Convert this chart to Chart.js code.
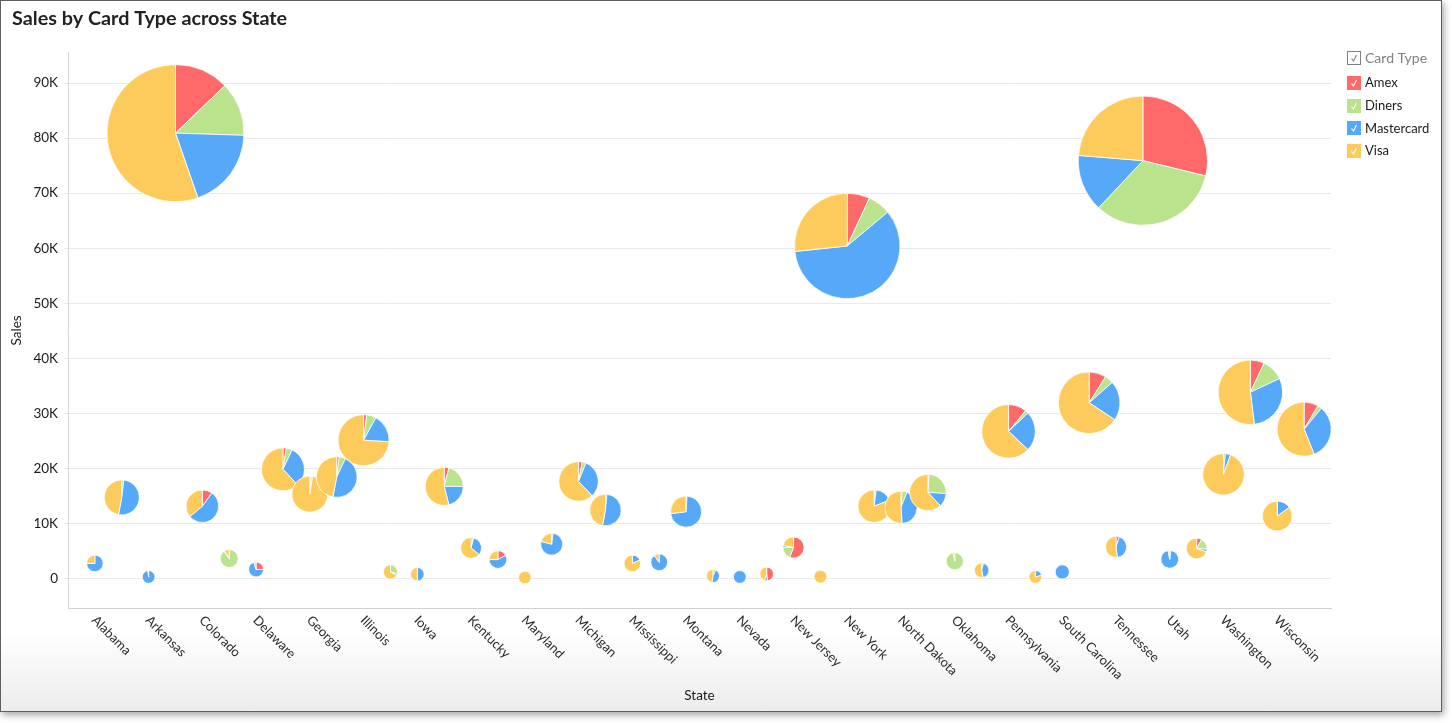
<!DOCTYPE html>
<html>
<head>
<meta charset="utf-8">
<title>Sales by Card Type across State</title>
<script src="https://cdn.jsdelivr.net/npm/chart.js@4.4.1/dist/chart.umd.min.js"></script>
<style>
  html, body { margin: 0; padding: 0; background: #fff; }
  #frame {
    position: absolute; left: 0; top: 0;
    width: 1440px; height: 710px;
    border: 1px solid #5f5f5f;
    background: linear-gradient(to bottom, #fff 0, #fff 630px, #ececec 710px);
    box-shadow: 2px 3px 7px rgba(0, 0, 0, 0.35);
  }
  #frame canvas { display: block; }
</style>
</head>
<body>
<div id="frame"><canvas id="chart" width="1440" height="710"></canvas></div>
<script>
// states on the x axis (every other one gets a label)
const states = ['Alabama', 'Arizona', 'Arkansas', 'California', 'Colorado', 'Connecticut',
  'Delaware', 'Florida', 'Georgia', 'Idaho', 'Illinois', 'Indiana', 'Iowa', 'Kansas',
  'Kentucky', 'Louisiana', 'Maryland', 'Massachusetts', 'Michigan', 'Minnesota',
  'Mississippi', 'Missouri', 'Montana', 'Nebraska', 'Nevada', 'New Hampshire', 'New Jersey',
  'New Mexico', 'New York', 'North Carolina', 'North Dakota', 'Ohio', 'Oklahoma', 'Oregon',
  'Pennsylvania', 'Rhode Island', 'South Carolina', 'South Dakota', 'Tennessee', 'Texas',
  'Utah', 'Virginia', 'Washington', 'West Virginia', 'Wisconsin', 'Wyoming'];

// sales per card type, one value per state
const amex = [0, 0, 0, 10360, 1310, 0, 400, 500, 0, 370, 500, 0, 0, 670, 170, 580, 0, 0, 530, 190,
  0, 0, 0, 0, 0, 380, 3140, 0, 4170, 0, 130, 160, 0, 0, 2940, 0, 0, 2870, 290, 21860,
  0, 430, 0, 2370, 0, 2300];
const diners = [0, 290, 0, 10270, 0, 3240, 0, 890, 230, 920, 1510, 340, 0, 3510, 60, 0, 0, 120, 530, 0,
  0, 0, 120, 30, 0, 0, 1060, 0, 4230, 260, 650, 3900, 3010, 60, 530, 0, 0, 1440, 0, 25200,
  70, 970, 280, 3720, 0, 680];
const mastercard = [2030, 7500, 236, 15530, 7070, 40, 1120, 6140, 150, 8460, 4520, 40, 365, 3510, 1760, 1970, 0, 4780, 5630, 6380,
  490, 2610, 8710, 190, 240, 55, 170, 0, 35880, 2230, 5550, 1870, 0, 620, 6410, 50, 1150, 6640, 2450, 10850,
  3280, 220, 760, 10140, 1700, 8940];
const visa = [670, 6910, 4, 44740, 4720, 320, 80, 12270, 14920, 8650, 18570, 770, 365, 9010, 3520, 850, 130, 1300, 10910, 5830,
  2210, 290, 3270, 200, 0, 350, 1230, 300, 16120, 10610, 6570, 9670, 90, 770, 16820, 190, 0, 20950, 2960, 17990,
  100, 3780, 17860, 17570, 9600, 15180];

const salesTicks = [0, 10000, 20000, 30000, 40000, 50000, 60000, 70000, 80000, 90000];

const cardTypes = ['Amex', 'Diners', 'Mastercard', 'Visa'];
const cardColors = ['#FF6969', '#B9E38C', '#56A9F9', '#FDCB5B'];

const totals = states.map((s, i) => amex[i] + diners[i] + mastercard[i] + visa[i]);
const minTotal = Math.min(...totals);
const maxTotal = Math.max(...totals);

// pie size grows linearly with the state's total
function pieRadius(t) {
  return 6.3 + (t - minTotal) / (maxTotal - minTotal) * (68.5 - 6.3);
}

// draw a pie at every bubble position
const piePoints = {
  id: 'piePoints',
  afterDatasetsDraw(chart) {
    const ctx = chart.ctx;
    const meta = chart.getDatasetMeta(0);
    meta.data.forEach((pt, i) => {
      const parts = [amex[i], diners[i], mastercard[i], visa[i]];
      const total = totals[i];
      const r = pieRadius(total);
      let a = -Math.PI / 2;
      ctx.save();
      ctx.strokeStyle = '#fff';
      ctx.lineWidth = 0.8;
      parts.forEach((v, k) => {
        if (!v) return;
        const b = a + v / total * Math.PI * 2;
        ctx.beginPath();
        if (v === total) {
          ctx.arc(pt.x, pt.y, r, 0, Math.PI * 2);
        } else {
          ctx.moveTo(pt.x, pt.y);
          ctx.arc(pt.x, pt.y, r, a, b);
          ctx.closePath();
        }
        ctx.fillStyle = cardColors[k];
        ctx.fill();
        ctx.stroke();
        a = b;
      });
      ctx.restore();
    });
  }
};

// rotated state names under the x axis
const stateLabels = {
  id: 'stateLabels',
  afterDraw(chart) {
    const {ctx, chartArea} = chart;
    const x = chart.scales.x;
    ctx.save();
    ctx.font = '13px Lato';
    ctx.fillStyle = '#2a2a2a';
    ctx.textAlign = 'left';
    ctx.textBaseline = 'middle';
    states.forEach((s, i) => {
      if (i % 2) return;
      ctx.save();
      ctx.translate(x.getPixelForValue(i) - 1, chartArea.bottom + 10);
      ctx.rotate(Math.PI / 4);
      ctx.fillText(s, 0, 0);
      ctx.restore();
    });
    ctx.restore();
  }
};

function drawCheck(ctx, x, y, color) {
  ctx.beginPath();
  ctx.moveTo(x + 4.5, y + 7.5);
  ctx.lineTo(x + 6.5, y + 10);
  ctx.lineTo(x + 9.5, y + 4);
  ctx.strokeStyle = color;
  ctx.lineWidth = 1.1;
  ctx.stroke();
}

// checkbox legend at the top right
const cardLegend = {
  id: 'cardLegend',
  afterDraw(chart) {
    const {ctx, chartArea} = chart;
    const left = chartArea.right + 16;
    ctx.save();
    ctx.textBaseline = 'middle';
    // header
    ctx.fillStyle = '#fff';
    ctx.fillRect(left, 50, 14, 14);
    ctx.strokeStyle = '#808080';
    ctx.lineWidth = 1;
    ctx.strokeRect(left + 0.5, 50.5, 13, 13);
    drawCheck(ctx, left, 50, '#808080');
    ctx.font = '14px Lato';
    ctx.fillStyle = '#808080';
    ctx.fillText('Card Type', left + 18, 57);
    ctx.font = '13px Lato';
    cardTypes.forEach((name, k) => {
      const cy = 82 + k * 22.7;
      const top = Math.round(cy - 7);
      ctx.fillStyle = cardColors[k];
      ctx.fillRect(left, top, 14, 14);
      drawCheck(ctx, left, top, '#fff');
      ctx.fillStyle = '#1a1a1a';
      ctx.fillText(name, left + 18, cy);
    });
    ctx.restore();
  }
};

Chart.defaults.font.family = 'Lato, "Open Sans", sans-serif';
Chart.defaults.color = '#1a1a1a';

new Chart(document.getElementById('chart'), {
  type: 'bubble',
  data: {
    datasets: [{
      label: 'Sales',
      data: states.map((s, i) => ({x: i, y: totals[i], r: pieRadius(totals[i])})),
      backgroundColor: 'rgba(0,0,0,0)',
      borderWidth: 0,
      hoverBorderWidth: 0,
      clip: false
    }]
  },
  options: {
    responsive: false,
    animation: false,
    events: [],
    layout: {autoPadding: false, padding: {left: 11, right: 110, top: 0, bottom: 0}},
    plugins: {
      legend: {display: false},
      tooltip: {enabled: false},
      title: {
        display: true,
        text: 'Sales by Card Type across State',
        align: 'start',
        color: '#222',
        font: {size: 19.8, weight: 'bold'},
        padding: {top: 6, bottom: 22}
      }
    },
    scales: {
      x: {
        type: 'linear',
        min: -1,
        max: 46,
        grid: {drawOnChartArea: false, drawTicks: false},
        border: {color: '#d0d0d0'},
        ticks: {display: false},
        title: {display: true, text: 'State', color: '#1a1a1a', font: {size: 13.5}, padding: {top: 0, bottom: 7}},
        afterFit(scale) { scale.height = 103; }
      },
      y: {
        min: -5400,
        max: 95510,
        grid: {color: '#e9e9e9', tickLength: 4},
        border: {color: '#d6d6d6'},
        afterBuildTicks(scale) { scale.ticks = salesTicks.map(v => ({value: v})); },
        ticks: {
          padding: 6,
          color: '#1a1a1a',
          font: {size: 13.5},
          callback: v => v === 0 ? '0' : (v / 1000) + 'K'
        },
        title: {display: true, text: 'Sales', color: '#1a1a1a', font: {size: 13.5}, padding: {top: -3, bottom: 0}},
        afterFit(scale) { scale.width = 56; }
      }
    }
  },
  plugins: [piePoints, stateLabels, cardLegend]
});
</script>
</body>
</html>
